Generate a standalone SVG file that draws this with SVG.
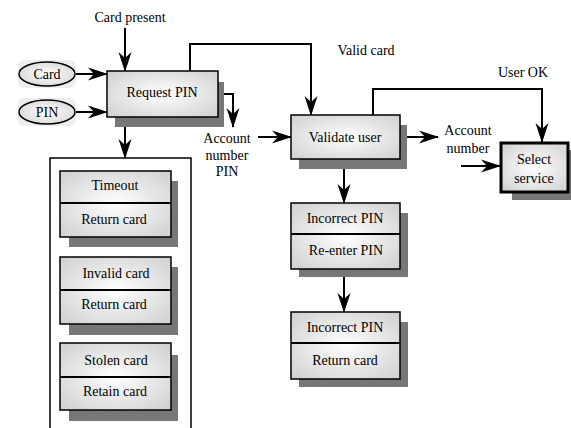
<svg xmlns="http://www.w3.org/2000/svg" width="571" height="428" viewBox="0 0 571 428">
<defs>
<radialGradient id="g" cx="0.5" cy="0.5" r="0.7">
<stop offset="0" stop-color="#ffffff"/>
<stop offset="1" stop-color="#cfcfcf"/>
</radialGradient>
<marker id="ah" markerUnits="userSpaceOnUse" markerWidth="20" markerHeight="14" refX="19" refY="7" orient="auto" overflow="visible">
<path d="M0,0.5 L20,7 L0,13.5 L6,7 z" fill="#000"/>
</marker>
<style>
.box{fill:url(#g);stroke:#000;stroke-width:1.5}
.sh{fill:#777}
.c{fill:none;stroke:#000;stroke-width:2}
.dv{stroke:#000;stroke-width:2}
.t{font-family:"Liberation Serif","DejaVu Serif",serif;font-size:14px;text-anchor:middle;fill:#000}
</style>
</defs>
<rect width="571" height="428" fill="#fff"/>

<g id="connectors">
<line class="c" x1="125" y1="28" x2="125" y2="71" marker-end="url(#ah)"/>
<line class="c" x1="75" y1="74" x2="107" y2="74" marker-end="url(#ah)"/>
<line class="c" x1="75" y1="112" x2="107" y2="112" marker-end="url(#ah)"/>
<polyline class="c" points="190,71 190,44 311,44 311,115" marker-end="url(#ah)"/>
<polyline class="c" points="218,94 233,94 233,127" marker-end="url(#ah)"/>
<line class="c" x1="258" y1="137" x2="291" y2="137" marker-end="url(#ah)"/>
<line class="c" x1="125" y1="117" x2="125" y2="158" marker-end="url(#ah)"/>
<line class="c" x1="400" y1="137" x2="438" y2="137" marker-end="url(#ah)"/>
<polyline class="c" points="373,115 373,89 542,89 542,142" marker-end="url(#ah)"/>
<line class="c" x1="461" y1="166" x2="500" y2="166" marker-end="url(#ah)"/>
<line class="c" x1="344" y1="159" x2="344" y2="203" marker-end="url(#ah)"/>
<line class="c" x1="344" y1="269" x2="344" y2="312" marker-end="url(#ah)"/>
</g>

<g class="t">

<g id="card-present"><text class="t" x="130" y="22">Card present</text></g>
<g id="valid-card-label"><text class="t" x="366" y="55">Valid card</text></g>
<g id="user-ok-label"><text class="t" x="523" y="77">User OK</text></g>
<g id="acct-pin-label">
<text class="t" x="227" y="143">Account</text>
<text class="t" x="227" y="160">number</text>
<text class="t" x="227" y="176">PIN</text>
</g>
<g id="acct-label">
<text class="t" x="468" y="135">Account</text>
<text class="t" x="468" y="153">number</text>
</g>

<g id="card">
<rect x="18" y="60" width="58" height="28" rx="6" fill="#eeeeee"/>
<ellipse cx="47" cy="74" rx="28" ry="12" fill="url(#g)" stroke="#000" stroke-width="1.5"/>
<text class="t" x="47" y="79">Card</text>
</g>
<g id="pin">
<rect x="18" y="98" width="58" height="28" rx="6" fill="#eeeeee"/>
<ellipse cx="47" cy="112" rx="28" ry="12" fill="url(#g)" stroke="#000" stroke-width="1.5"/>
<text class="t" x="47" y="117">PIN</text>
</g>

<g id="request-pin">
<rect class="sh" x="115" y="82" width="109" height="45"/>
<rect class="box" x="107" y="71" width="111" height="46"/>
<text class="t" x="162" y="97">Request PIN</text>
</g>

<g id="validate-user">
<rect class="sh" x="299" y="125" width="108" height="44"/>
<rect class="box" x="291" y="115" width="109" height="44"/>
<text class="t" x="345" y="142">Validate user</text>
</g>

<g id="select-service">
<rect class="sh" x="512" y="150" width="62" height="50"/>
<rect class="box" x="501" y="143" width="67" height="49" style="stroke-width:3"/>
<text class="t" x="534" y="164">Select</text>
<text class="t" x="534" y="183">service</text>
</g>

<g id="incorrect-pin-1">
<rect class="sh" x="299" y="213" width="109" height="64"/>
<rect class="box" x="291" y="203" width="109" height="66"/>
<line class="dv" x1="291" y1="234" x2="400" y2="234"/>
<text class="t" x="345" y="223">Incorrect PIN</text>
<text class="t" x="346" y="255">Re-enter PIN</text>
</g>

<g id="incorrect-pin-2">
<rect class="sh" x="299" y="322" width="109" height="65"/>
<rect class="box" x="291" y="312" width="109" height="67"/>
<line class="dv" x1="291" y1="343" x2="400" y2="343"/>
<text class="t" x="345" y="332">Incorrect PIN</text>
<text class="t" x="345" y="365">Return card</text>
</g>

<g id="exceptions">
<polyline fill="none" stroke="#000" stroke-width="1.5" points="50,428 50,158 191,158 191,428"/>
</g>

<g id="timeout">
<rect class="sh" x="69" y="181" width="109" height="66"/>
<rect class="box" x="60" y="171" width="111" height="66"/>
<line class="dv" x1="60" y1="203" x2="171" y2="203"/>
<text class="t" x="115" y="190">Timeout</text>
<text class="t" x="114" y="224">Return card</text>
</g>

<g id="invalid-card">
<rect class="sh" x="69" y="267" width="109" height="68"/>
<rect class="box" x="60" y="257" width="111" height="67"/>
<line class="dv" x1="60" y1="290" x2="171" y2="290"/>
<text class="t" x="116" y="278">Invalid card</text>
<text class="t" x="114" y="309">Return card</text>
</g>

<g id="stolen-card">
<rect class="sh" x="69" y="355" width="109" height="66"/>
<rect class="box" x="60" y="343" width="111" height="67"/>
<line class="dv" x1="60" y1="377" x2="171" y2="377"/>
<text class="t" x="116" y="365">Stolen card</text>
<text class="t" x="115" y="396">Retain card</text>
</g>

</g>
</svg>
